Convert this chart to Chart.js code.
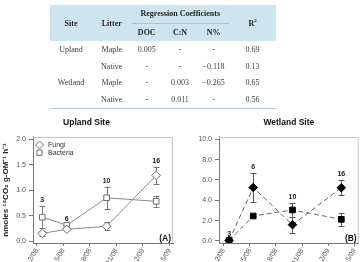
<!DOCTYPE html>
<html><head><meta charset="utf-8">
<script src="https://cdn.jsdelivr.net/npm/chart.js@4.4.1/dist/chart.umd.min.js"></script>
<style>
html,body{margin:0;padding:0;background:#fff;}
body{width:364px;height:262px;overflow:hidden;position:relative;}
#tbl{position:absolute;left:50px;top:5px;width:226px;border-collapse:collapse;table-layout:fixed;font-family:"Liberation Serif","Times New Roman",serif;font-size:8px;color:#3a3a3a;opacity:0.99;will-change:opacity;-webkit-font-smoothing:antialiased;}
#tbl th{background:#cde5ef;font-weight:bold;color:#222;padding:0;height:17.5px;text-align:center;line-height:9px;}
#tbl td{padding:0;height:16.8px;text-align:center;line-height:9px;}
#tbl th.rc{border-bottom:1px solid #a3c5d4;}
#tbl tbody tr:last-child td{border-bottom:1px solid #abcfdf;}
#tbl sup{font-size:5px;vertical-align:4px;line-height:0;}
canvas{position:absolute;}
</style></head><body>
<table id="tbl">
<colgroup><col style="width:42px"><col style="width:39.5px"><col style="width:30.5px"><col style="width:36px"><col style="width:31px"><col style="width:47px"></colgroup>
<thead id="thead"></thead><tbody id="tbody"></tbody></table>
<canvas id="c1" width="193" height="160" style="left:0;top:110px"></canvas>
<canvas id="c2" width="178" height="160" style="left:186px;top:110px"></canvas>
<script>
// ---- table data ----
const headSite = 'Site';
const headLitter = 'Litter';
const headGroup = 'Regression Coefficients';
const headCoefs = ['DOC', 'C:N', 'N%'];
const headR2 = 'R<sup>2</sup>';
const tableSites = ['Upland', '', 'Wetland', ''];
const tableLitter = ['Maple', 'Native', 'Maple', 'Native'];
const coefDOC = ['0.005', '-', '-', '-'];
const coefCN = ['-', '-', '0.003', '0.011'];
const coefN = ['-', '\u22120.118', '\u22120.265', '-'];
const rSquared = ['0.69', '0.13', '0.65', '0.56'];

// ---- chart data ----
const xTickValues = [0, 3, 6, 9, 12, 15];
const xTickLabels = ['2/08', '5/08', '8/08', '11/08', '2/09', '5/09'];
const sampleMonths = [0.63, 3.4, 7.9, 13.5];
const sampleLabels = ['3', '6', '10', '16'];
const uplandYTicks = [0, 0.5, 1.0, 1.5, 2.0];
const wetlandYTicks = [0, 2, 4, 6, 8, 10];
const uplandFungi = [0.15, 0.23, 0.29, 1.29];
const uplandFungiErr = [0.05, 0, 0.08, 0.17];
const uplandBacteria = [0.47, 0.31, 0.85, 0.78];
const uplandBacteriaErr = [0.21, 0, 0.22, 0.11];
const wetlandFungi = [0.05, 5.26, 1.6, 5.24];
const wetlandFungiErr = [0, 1.45, 0.8, 0.75];
const wetlandBacteria = [0.05, 2.46, 3.05, 2.13];
const wetlandBacteriaErr = [0, 0, 0.65, 0.65];
const seriesNames = ['Fungi', 'Bacteria'];
const yAxisTitle = 'nmoles \u00B9\u2074CO\u2082 g-OM\u207B\u00B9 h\u207B\u00B9';

// build table
(function(){
  const th = document.getElementById('thead');
  th.innerHTML = '<tr><th rowspan="2">' + headSite + '</th><th rowspan="2">' + headLitter +
    '</th><th colspan="3" class="rc">' + headGroup + '</th><th rowspan="2">' + headR2 + '</th></tr>' +
    '<tr>' + headCoefs.map(h => '<th>' + h + '</th>').join('') + '</tr>';
  const tb = document.getElementById('tbody');
  let html = '';
  for (let i = 0; i < tableLitter.length; i++) {
    html += '<tr><td>' + tableSites[i] + '</td><td>' + tableLitter[i] + '</td><td>' + coefDOC[i] +
      '</td><td>' + coefCN[i] + '</td><td>' + coefN[i] + '</td><td>' + rSquared[i] + '</td></tr>';
  }
  tb.innerHTML = html;
})();

Chart.defaults.font.family = '"Liberation Sans", Arial, sans-serif';
Chart.defaults.devicePixelRatio = 1;

const pts = (vals) => sampleMonths.map((m, i) => ({x: m, y: vals[i]}));

const framePlugin = {
  id: 'frame',
  beforeDatasetsDraw(chart) {
    const a = chart.chartArea, ctx = chart.ctx;
    ctx.save();
    ctx.strokeStyle = '#c4c4c4';
    ctx.lineWidth = 1;
    ctx.beginPath();
    ctx.moveTo(a.left, a.top + 0.5); ctx.lineTo(a.right - 0.5, a.top + 0.5); ctx.lineTo(a.right - 0.5, a.bottom);
    ctx.stroke();
    ctx.restore();
  }
};

const errorBarPlugin = {
  id: 'errbars',
  beforeDatasetsDraw(chart) {
    const ctx = chart.ctx, xs = chart.scales.x, ys = chart.scales.y;
    ctx.save();
    ctx.lineWidth = 1;
    chart.data.datasets.forEach(ds => {
      ctx.strokeStyle = ds.errColor;
      ds.data.forEach((p, i) => {
        const e = ds.errors[i];
        if (!e) return;
        const x = Math.round(xs.getPixelForValue(p.x)) + 0.5;
        const yt = ys.getPixelForValue(p.y + e), yb = ys.getPixelForValue(p.y - e);
        ctx.beginPath();
        ctx.moveTo(x, yt); ctx.lineTo(x, yb);
        ctx.moveTo(x - 3, Math.round(yt) + 0.5); ctx.lineTo(x + 3, Math.round(yt) + 0.5);
        ctx.moveTo(x - 3, Math.round(yb) + 0.5); ctx.lineTo(x + 3, Math.round(yb) + 0.5);
        ctx.stroke();
      });
    });
    ctx.restore();
  }
};

const sampleLabelPlugin = {
  id: 'sampleLabels',
  afterDatasetsDraw(chart) {
    const ctx = chart.ctx, xs = chart.scales.x, ys = chart.scales.y;
    ctx.save();
    ctx.font = 'bold 7px "Liberation Sans", Arial, sans-serif';
    ctx.fillStyle = '#222';
    ctx.textAlign = 'center';
    ctx.textBaseline = 'middle';
    sampleMonths.forEach((m, i) => {
      let top = Infinity;
      chart.data.datasets.forEach(ds => {
        top = Math.min(top, ys.getPixelForValue(ds.data[i].y + ds.errors[i]));
      });
      ctx.fillText(sampleLabels[i], xs.getPixelForValue(m), top - 6);
    });
    ctx.restore();
  }
};

const panelLegendPlugin = {
  id: 'panelLegend',
  afterDraw(chart, args, opts) {
    const ctx = chart.ctx, a = chart.chartArea;
    ctx.save();
    ctx.font = 'bold 8.5px "Liberation Sans", Arial, sans-serif';
    ctx.fillStyle = '#111';
    ctx.textAlign = 'right';
    ctx.textBaseline = 'alphabetic';
    ctx.fillText(opts.panel, a.right - 2, a.bottom - 2);
    if (opts.legend) {
      ctx.font = '7px "Liberation Sans", Arial, sans-serif';
      ctx.textAlign = 'left';
      ctx.textBaseline = 'middle';
      chart.data.datasets.forEach((ds, k) => {
        const cx = a.left + 6.5, cy = a.top + 8 + k * 7.7;
        ctx.fillStyle = ds.pointBackgroundColor;
        ctx.strokeStyle = ds.pointBorderColor;
        ctx.lineWidth = 1;
        Chart.helpers.drawPoint(ctx, {pointStyle: ds.pointStyle, rotation: 0, radius: ds.pointRadius - 0.3, borderWidth: 1}, cx, cy);
        ctx.fillStyle = '#333';
        ctx.fillText(ds.label, a.left + 15, cy);
      });
    }
    ctx.restore();
  }
};

function makeChart(id, cfg) {
  const tickFont = {size: 7};
  new Chart(document.getElementById(id), {
    type: 'scatter',
    data: {datasets: cfg.datasets},
    options: {
      responsive: false,
      animation: false,
      devicePixelRatio: 1,
      layout: {padding: {left: 0, right: cfg.padRight, top: 0, bottom: 0}},
      plugins: {
        legend: {display: false},
        tooltip: {enabled: false},
        title: {display: true, text: cfg.title, fullSize: cfg.titleFull, color: '#111',
          font: {size: 8.5, weight: 'bold'}, padding: {top: 7.6, bottom: 9.2}},
        panelLegend: {panel: cfg.panel, legend: cfg.legend}
      },
      scales: {
        x: {
          type: 'linear', min: cfg.xMin, max: cfg.xMax,
          afterBuildTicks: s => { s.ticks = xTickValues.map(v => ({value: v})); },
          afterFit: s => { s.height = 27; },
          ticks: {autoSkip: false, minRotation: 60, maxRotation: 60, padding: 1, font: tickFont, color: '#555',
            callback: (v, i) => xTickLabels[i]},
          grid: {drawOnChartArea: false, tickLength: 3, color: '#777'},
          border: {color: '#777'}
        },
        y: {
          min: cfg.yMin, max: cfg.yMax,
          afterBuildTicks: s => { s.ticks = cfg.yTicks.map(v => ({value: v})); },
          afterFit: s => { s.width = 33; },
          ticks: {font: tickFont, color: '#555', padding: 3, callback: v => v.toFixed(1)},
          grid: {drawOnChartArea: false, tickLength: 4, color: '#777'},
          border: {color: '#777'},
          title: {display: cfg.yTitle, text: yAxisTitle, color: '#222', font: {size: 8, weight: 'bold'}, padding: {top: 1, bottom: 0}}
        }
      }
    },
    plugins: [framePlugin, errorBarPlugin, sampleLabelPlugin, panelLegendPlugin]
  });
}

function ds(label, vals, errs, style, filled, dashed) {
  return {
    label: label, data: pts(vals), errors: errs, showLine: true,
    borderColor: filled ? '#666' : '#8a8a8a', borderWidth: 1, borderDash: dashed ? [5, 3] : [],
    pointStyle: style, pointRadius: style === 'rect' ? 4 : 4.3,
    pointBackgroundColor: filled ? '#000' : '#fff',
    pointBorderColor: filled ? '#000' : '#6a6a6a', pointBorderWidth: 1,
    errColor: filled ? '#555' : '#777'
  };
}

makeChart('c1', {
  title: 'Upland Site', titleFull: true, panel: '(A)', legend: true, yTitle: true, padRight: 20,
  xMin: -0.418, xMax: 15.40, yMin: -0.039, yMax: 2.045, yTicks: uplandYTicks,
  datasets: [
    ds(seriesNames[0], uplandFungi, uplandFungiErr, 'rectRot', false, false),
    ds(seriesNames[1], uplandBacteria, uplandBacteriaErr, 'rect', false, false)
  ]
});

makeChart('c2', {
  title: 'Wetland Site', titleFull: false, panel: '(B)', legend: false, yTitle: false, padRight: 2,
  xMin: -0.526, xMax: 15.49, yMin: -0.197, yMax: 10.226, yTicks: wetlandYTicks,
  datasets: [
    ds(seriesNames[0], wetlandFungi, wetlandFungiErr, 'rectRot', true, true),
    ds(seriesNames[1], wetlandBacteria, wetlandBacteriaErr, 'rect', true, true)
  ]
});
</script>
</body></html>
